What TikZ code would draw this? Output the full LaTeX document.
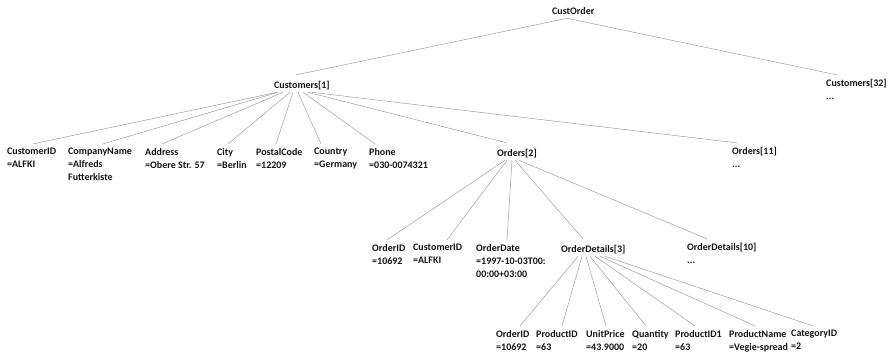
\documentclass[tikz,border=0pt]{standalone}
\usepackage{fontspec}
\setmainfont{Carlito}
\tikzset{
  lbl/.style={anchor=north west, inner sep=0pt, align=left,
    font=\bfseries\fontsize{10}{13}\selectfont, text=black!92,
    execute at begin node={\rule[-3.9pt]{0pt}{13pt}}},
  conn/.style={draw=black!38, line width=0.5pt}
}
\newcommand\cn[4]{\draw[conn] ([xshift=#2pt]#1.south west) -- ([xshift=#4pt,yshift=4pt]#3.north west);}
\begin{document}
\begin{tikzpicture}[x=1pt,y=-1pt]
\useasboundingbox (0,0) rectangle (891,354);
% level 0
\node[lbl] (co) at (552,4.9) {CustOrder};
% level 1
\node[lbl] (c1) at (274,78.9) {Customers[1]};
\node[lbl] (c32) at (826,78.9) {Customers[32]\\...};
% level 2
\node[lbl] (a1) at (7,147.9) {CustomerID\\=ALFKI};
\node[lbl] (a2) at (68,147.9) {CompanyName\\=Alfreds\\Futterkiste};
\node[lbl] (a3) at (145,147.9) {Address\\=Obere Str. 57};
\node[lbl] (a4) at (217,147.9) {City\\=Berlin};
\node[lbl] (a5) at (256,147.9) {PostalCode\\=12209};
\node[lbl] (a6) at (314,147.9) {Country\\=Germany};
\node[lbl] (a7) at (369,147.9) {Phone\\=030-0074321};
\node[lbl] (o2) at (497,146.9) {Orders[2]};
\node[lbl] (o11) at (732,146.9) {Orders[11]\\...};
% level 3
\node[lbl] (b1) at (372,243.9) {OrderID\\=10692};
\node[lbl] (b2) at (413,243.9) {CustomerID\\=ALFKI};
\node[lbl] (b3) at (476,243.9) {OrderDate\\=1997-10-03T00:\\00:00+03:00};
\node[lbl] (od3) at (561,242.9) {OrderDetails[3]};
\node[lbl] (od10) at (687,242.9) {OrderDetails[10]\\...};
% level 4
\node[lbl] (d1) at (496,329.9) {OrderID\\=10692};
\node[lbl] (d2) at (536,329.9) {ProductID\\=63};
\node[lbl] (d3) at (586,329.9) {UnitPrice\\=43.9000};
\node[lbl] (d4) at (632,329.9) {Quantity\\=20};
\node[lbl] (d5) at (675,329.9) {ProductID1\\=63};
\node[lbl] (d6) at (729,329.9) {ProductName\\=Vegie-spread};
\node[lbl] (d7) at (791,329.9) {CategoryID\\=2};
% connectors
\cn{co}{15}{c1}{22}
\cn{co}{15}{c32}{11}
\cn{c1}{3}{a1}{26}
\cn{c1}{4}{a2}{35}
\cn{c1}{9}{a3}{17}
\cn{c1}{16}{a4}{11}
\cn{c1}{19}{a5}{20}
\cn{c1}{24}{a6}{7}
\cn{c1}{29}{a7}{6}
\cn{c1}{34}{o2}{10}
\cn{c1}{38}{o11}{5}
\cn{o2}{8}{b1}{15}
\cn{o2}{10}{b2}{34}
\cn{o2}{15}{b3}{31}
\cn{o2}{18}{od3}{22}
\cn{o2}{22}{od10}{20}
\cn{od3}{17}{d1}{24}
\cn{od3}{21}{d2}{26}
\cn{od3}{25}{d3}{20}
\cn{od3}{29}{d4}{14}
\cn{od3}{34}{d5}{20}
\cn{od3}{39}{d6}{26}
\cn{od3}{44}{d7}{22}
\end{tikzpicture}
\end{document}
